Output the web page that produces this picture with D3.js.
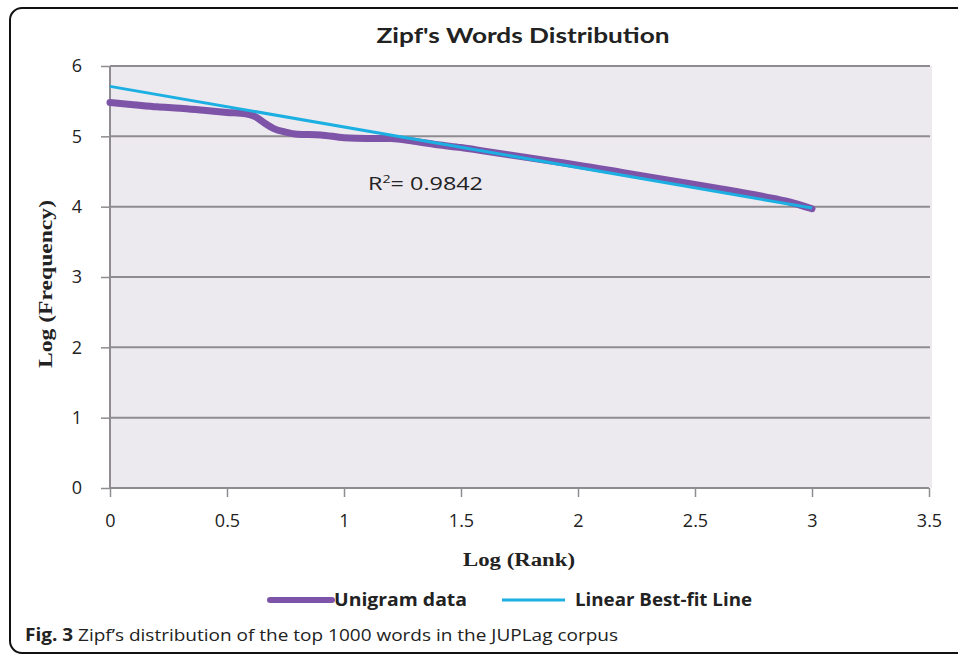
<!DOCTYPE html>
<html>
<head>
<meta charset="utf-8">
<script src="https://cdn.jsdelivr.net/npm/d3@7"></script>
<style>
  body { margin: 0; background: #fff; }
  svg { display: block; }
</style>
</head>
<body>
<script>
// log(rank) vs log(frequency)
var unigramX = [0, 0.1, 0.2, 0.3, 0.4, 0.5, 0.58, 0.62, 0.66, 0.7, 0.75, 0.8, 0.9, 1.0, 1.1, 1.2, 1.3, 1.4, 1.5, 1.6, 1.7, 1.8, 1.9, 2.0, 2.2, 2.4, 2.6, 2.8, 2.9, 3.0];
var unigramY = [5.48, 5.45, 5.42, 5.40, 5.37, 5.34, 5.32, 5.28, 5.19, 5.11, 5.06, 5.03, 5.02, 4.98, 4.97, 4.97, 4.93, 4.88, 4.84, 4.79, 4.74, 4.69, 4.64, 4.59, 4.48, 4.37, 4.26, 4.14, 4.07, 3.97];
var fitX = [0, 3.0];
var fitY = [5.71, 3.98];
var xTicks = [0, 0.5, 1, 1.5, 2, 2.5, 3, 3.5];
var yTicks = [0, 1, 2, 3, 4, 5, 6];
var r2Label = "0.9842";

var W = 958, H = 655;
var margin = {top: 66, right: 29, bottom: 167, left: 110},
    width = W - margin.left - margin.right,
    height = H - margin.top - margin.bottom;

var svg = d3.select("body").append("svg")
    .attr("width", W)
    .attr("height", H);

// frame round the figure
svg.append("rect")
    .attr("x", 10).attr("y", 8)
    .attr("width", 990).attr("height", 645)
    .attr("rx", 12)
    .attr("fill", "none")
    .attr("stroke", "#111")
    .attr("stroke-width", 2);

var g = svg.append("g")
    .attr("transform", "translate(" + margin.left + "," + margin.top + ")");

var x = d3.scaleLinear().domain([0, 3.5]).range([0, width]);
var y = d3.scaleLinear().domain([0, 6]).range([height, 0]);

g.append("rect")
    .attr("width", width + 3)
    .attr("height", height)
    .attr("fill", "#ece9ef");

// gridlines
g.append("g")
    .selectAll("line")
    .data(yTicks.filter(d => d > 0))
    .enter().append("line")
    .attr("x1", 0).attr("x2", width + 1)
    .attr("y1", d => y(d)).attr("y2", d => y(d))
    .attr("stroke", "#8e8c90")
    .attr("stroke-width", 2);

var yAxis = g.append("g")
    .call(d3.axisLeft(y).tickValues(yTicks).tickSize(9).tickPadding(19).tickFormat(d3.format("d")));
var xAxis = g.append("g")
    .attr("transform", "translate(0," + height + ")")
    .call(d3.axisBottom(x).tickValues(xTicks).tickSize(9).tickPadding(17).tickFormat(d => d));

[yAxis, xAxis].forEach(function(a) {
  a.select(".domain").attr("stroke", "#8e8c90").attr("stroke-width", 2);
  a.selectAll(".tick line").attr("stroke", "#8e8c90").attr("stroke-width", 1.5);
  a.selectAll(".tick text")
    .attr("fill", "#222")
    .style("font-family", "'Open Sans', sans-serif")
    .style("font-size", "18px");
});
xAxis.select(".domain").attr("d", "M0,0H" + width);
yAxis.select(".domain").attr("d", "M0," + height + "V0");

var unigram = unigramX.map((d, i) => [d, unigramY[i]]);
var fit = fitX.map((d, i) => [d, fitY[i]]);

var line = d3.line()
    .x(d => x(d[0]))
    .y(d => y(d[1]))
    .curve(d3.curveMonotoneX);

g.append("path")
    .datum(unigram)
    .attr("fill", "none")
    .attr("stroke", "#7d54a8")
    .attr("stroke-width", 7)
    .attr("stroke-linecap", "round")
    .attr("stroke-linejoin", "round")
    .attr("d", line);

g.append("path")
    .datum(fit)
    .attr("fill", "none")
    .attr("stroke", "#1cb0e2")
    .attr("stroke-width", 3)
    .attr("d", line);

// R squared label
var r2 = g.append("text")
    .attr("x", 258)
    .attr("y", 124)
    .attr("textLength", 115)
    .attr("lengthAdjust", "spacingAndGlyphs")
    .attr("fill", "#222")
    .style("font-family", "'Open Sans', sans-serif")
    .style("font-size", "18px");
r2.append("tspan").text("R");
r2.append("tspan").attr("dy", -7).style("font-size", "11px").text("2");
r2.append("tspan").attr("dy", 7).text("= " + r2Label);

// title
svg.append("text")
    .attr("x", 523).attr("y", 43)
    .attr("text-anchor", "middle")
    .attr("textLength", 293)
    .attr("lengthAdjust", "spacingAndGlyphs")
    .attr("fill", "#222")
    .style("font-family", "Lato, sans-serif")
    .style("font-weight", "bold")
    .style("font-size", "21px")
    .text("Zipf's Words Distribution");

// axis titles
svg.append("text")
    .attr("x", 519).attr("y", 566)
    .attr("text-anchor", "middle")
    .attr("textLength", 112)
    .attr("lengthAdjust", "spacingAndGlyphs")
    .attr("fill", "#222")
    .style("font-family", "'Liberation Serif', serif")
    .style("font-weight", "bold")
    .style("font-size", "18px")
    .text("Log (Rank)");

svg.append("text")
    .attr("transform", "translate(52,284) rotate(-90)")
    .attr("text-anchor", "middle")
    .attr("textLength", 168)
    .attr("lengthAdjust", "spacingAndGlyphs")
    .attr("fill", "#222")
    .style("font-family", "'Liberation Serif', serif")
    .style("font-weight", "bold")
    .style("font-size", "18px")
    .text("Log (Frequency)");

// legend
var legend = svg.append("g");
legend.append("line")
    .attr("x1", 270).attr("x2", 332).attr("y1", 600).attr("y2", 600)
    .attr("stroke", "#7d54a8").attr("stroke-width", 6).attr("stroke-linecap", "round");
legend.append("text")
    .attr("x", 334).attr("y", 606)
    .attr("textLength", 133)
    .attr("lengthAdjust", "spacingAndGlyphs")
    .attr("fill", "#222")
    .style("font-family", "'Open Sans', sans-serif")
    .style("font-weight", "bold")
    .style("font-size", "18px")
    .text("Unigram data");
legend.append("line")
    .attr("x1", 502).attr("x2", 565).attr("y1", 600).attr("y2", 600)
    .attr("stroke", "#1cb0e2").attr("stroke-width", 3);
legend.append("text")
    .attr("x", 575).attr("y", 606)
    .attr("textLength", 177)
    .attr("lengthAdjust", "spacingAndGlyphs")
    .attr("fill", "#222")
    .style("font-family", "'Open Sans', sans-serif")
    .style("font-weight", "bold")
    .style("font-size", "18px")
    .text("Linear Best-fit Line");

// caption
var cap = svg.append("text")
    .attr("x", 25).attr("y", 641)
    .attr("textLength", 593)
    .attr("lengthAdjust", "spacingAndGlyphs")
    .attr("fill", "#222")
    .style("font-family", "'Open Sans', sans-serif")
    .style("font-size", "17px");
cap.append("tspan").style("font-weight", "bold").text("Fig. 3");
cap.append("tspan").text(" Zipf\u2019s distribution of the top 1000 words in the JUPLag corpus");
</script>
</body>
</html>
